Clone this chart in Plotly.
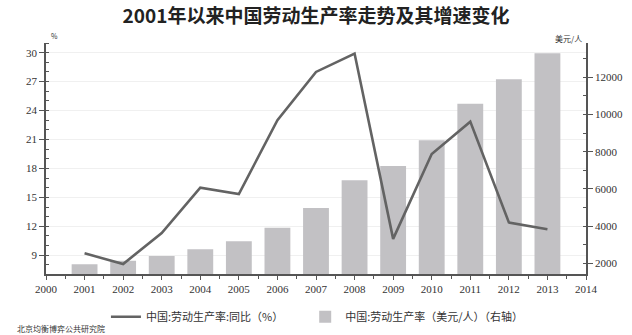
import plotly.graph_objects as go

years = [2001, 2002, 2003, 2004, 2005, 2006, 2007, 2008, 2009, 2010, 2011, 2012, 2013]
# 中国:劳动生产率 (美元/人)
productivity = [1950, 2140, 2390, 2750, 3180, 3910, 4970, 6460, 7230, 8610, 10580, 11890, 13290]
# 中国:劳动生产率:同比 (%)
growth = [9.2, 8.1, 11.3, 16.0, 15.35, 23.0, 28.0, 29.9, 10.7, 19.5, 22.85, 12.4, 11.7]

title_text = "2001年以来中国劳动生产率走势及其增速变化"
bar_name = "中国:劳动生产率（美元/人）（右轴）"
line_name = "中国:劳动生产率:同比（%）"
source_text = "北京均衡博弈公共研究院"

serif = "Liberation Serif, DejaVu Serif, serif"
cjk = "Noto Sans CJK SC, sans-serif"
axis_col = "#555555"
legend_font = dict(family=cjk, size=11, color="#333333")

fig = go.Figure()

fig.add_trace(go.Bar(
    x=years, y=productivity, name=bar_name, yaxis="y", legend="legend2",
    marker=dict(color="#c2c1c4", line=dict(width=0)), width=0.67,
))
fig.add_trace(go.Scatter(
    x=years, y=growth, name=line_name, yaxis="y2", mode="lines", legend="legend",
    line=dict(color="#636363", width=2.6),
))

fig.update_layout(
    width=632, height=335,
    margin=dict(l=46, r=46, t=43, b=61, autoexpand=False),
    paper_bgcolor="white", plot_bgcolor="white",
    title=dict(text="<b>" + title_text + "</b>", x=0.5, xanchor="center",
               y=0.95, yanchor="middle",
               font=dict(family=cjk, size=19, color="#222222")),
    showlegend=True,
    legend=dict(orientation="h", x=0.111, xanchor="left", y=-0.122, yanchor="top",
                font=legend_font, bgcolor="rgba(0,0,0,0)"),
    legend2=dict(orientation="h", x=0.48, xanchor="left", y=-0.122, yanchor="top",
                 font=legend_font, bgcolor="rgba(0,0,0,0)"),
    xaxis=dict(range=[2000, 2014], dtick=1, tick0=2000, showgrid=False,
               showline=True, linecolor=axis_col, linewidth=1.5,
               ticks="outside", ticklen=4, tickcolor=axis_col,
               minor=dict(dtick=0.5, ticks="outside", ticklen=3, tickcolor=axis_col),
               tickfont=dict(family=serif, size=11, color="#333333"),
               zeroline=False, automargin=False),
    yaxis=dict(side="right", range=[1425, 13845], dtick=2000, tick0=0,
               tickformat="d", automargin=False,
               showgrid=False, zeroline=False,
               showline=True, linecolor=axis_col, linewidth=1.5,
               ticks="outside", ticklen=5, tickcolor=axis_col,
               minor=dict(dtick=1000, ticks="inside", ticklen=3, tickcolor=axis_col),
               tickfont=dict(family=serif, size=11, color="#333333")),
    yaxis2=dict(side="left", overlaying="y", range=[7.06, 31.0], dtick=3, tick0=0,
                automargin=False,
                showgrid=True, gridcolor="#f0f0f0", gridwidth=1, zeroline=False,
                showline=True, linecolor=axis_col, linewidth=1.5,
                ticks="outside", ticklen=5, tickcolor=axis_col,
                minor=dict(dtick=1, ticks="inside", ticklen=3, tickcolor=axis_col),
                tickfont=dict(family=serif, size=11, color="#333333")),
)

fig.add_annotation(text="%", xref="paper", yref="paper", x=0.005, y=1.0,
                   xanchor="left", yanchor="bottom", showarrow=False,
                   font=dict(family=cjk, size=7, color="#333333"))
fig.add_annotation(text="美元/人", xref="paper", yref="paper", x=0.997, y=0.985,
                   xanchor="right", yanchor="bottom", showarrow=False,
                   font=dict(family=cjk, size=8, color="#333333"))
fig.add_annotation(text=source_text, xref="paper", yref="paper", x=-0.058, y=-0.238,
                   xanchor="left", yanchor="middle", showarrow=False,
                   font=dict(family=cjk, size=8, color="#333333"))

fig.write_html("out.html")
